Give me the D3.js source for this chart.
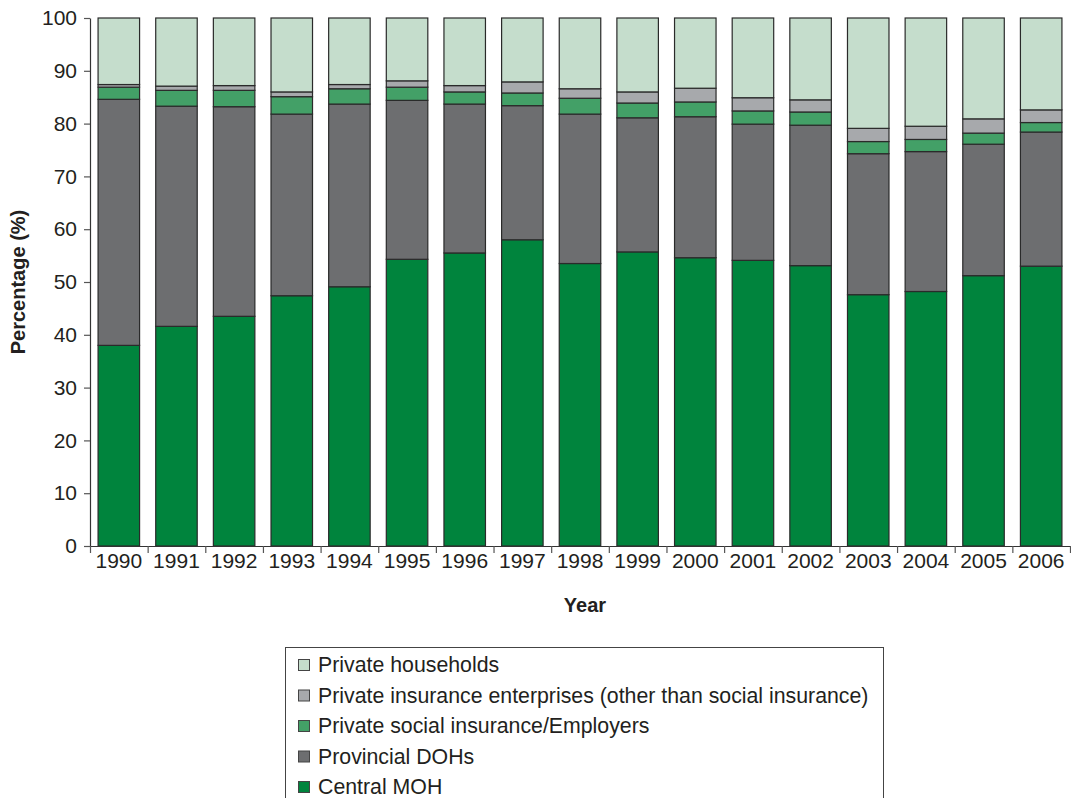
<!DOCTYPE html>
<html>
<head>
<meta charset="utf-8">
<script src="https://cdn.jsdelivr.net/npm/d3@7"></script>
<style>
  html, body { margin: 0; padding: 0; background: #fff; }
  svg { display: block; font-family: "Liberation Sans", Arial, Helvetica, sans-serif; }
</style>
</head>
<body>
<svg id="chart" width="1071" height="798"></svg>
<script>
const years = ["1990","1991","1992","1993","1994","1995","1996","1997","1998","1999","2000","2001","2002","2003","2004","2005","2006"];
const centralMOH     = [38.0, 41.6, 43.5, 47.4, 49.1, 54.3, 55.5, 58.0, 53.5, 55.7, 54.6, 54.1, 53.1, 47.6, 48.2, 51.2, 53.0];
const provincialDOHs = [46.6, 41.7, 39.7, 34.4, 34.6, 30.1, 28.2, 25.4, 28.3, 25.4, 26.7, 25.8, 26.6, 26.7, 26.5, 24.9, 25.4];
const privateSocial  = [ 2.3,  3.0,  3.1,  3.3,  2.9,  2.5,  2.3,  2.4,  3.0,  2.8,  2.8,  2.5,  2.5,  2.3,  2.3,  2.1,  1.8];
const privateInsur   = [ 0.5,  0.8,  0.9,  0.9,  0.8,  1.2,  1.2,  2.1,  1.8,  2.1,  2.6,  2.5,  2.3,  2.5,  2.5,  2.7,  2.4];
const households     = [12.6, 12.9, 12.8, 14.0, 12.6, 11.9, 12.8, 12.1, 13.4, 14.0, 13.3, 15.1, 15.5, 20.9, 20.5, 19.1, 17.4];
const yTicks = [0,10,20,30,40,50,60,70,80,90,100];

const seriesNames = ["Central MOH","Provincial DOHs","Private social insurance/Employers","Private insurance enterprises (other than social insurance)","Private households"];
const seriesColors = ["#00843d","#6d6e70","#43a067","#a7a9ac","#c5ddcc"];
const seriesValues = [centralMOH, provincialDOHs, privateSocial, privateInsur, households];

const rows = years.map((y, i) => {
  const r = { year: y };
  seriesNames.forEach((n, k) => r[n] = seriesValues[k][i]);
  return r;
});

const svg = d3.select("#chart");
const x = d3.scaleBand().domain(years).range([90, 1070]).paddingInner(0.28).paddingOuter(0.14);
const y = d3.scaleLinear().domain([0, 100]).range([546, 18]);

const stacked = d3.stack().keys(seriesNames)(rows);

svg.append("g").selectAll("g").data(stacked).join("g")
  .attr("fill", (d, i) => seriesColors[i])
  .selectAll("rect").data(d => d).join("rect")
  .attr("x", d => x(d.data.year))
  .attr("width", x.bandwidth())
  .attr("y", d => y(d[1]))
  .attr("height", d => y(d[0]) - y(d[1]))
  .attr("stroke", "#2a2a2a")
  .attr("stroke-width", 1.2);

// Y axis
const yAxis = svg.append("g").attr("transform", "translate(90,0)")
  .call(d3.axisLeft(y).tickValues(yTicks).tickSize(6).tickPadding(7).tickSizeOuter(0));
yAxis.select(".domain").attr("stroke", "#333").attr("stroke-width", 1.2);
yAxis.selectAll(".tick line").attr("stroke", "#555").attr("stroke-width", 1.2);
yAxis.selectAll(".tick text").attr("font-size", 21).attr("fill", "#231f20")
  .attr("font-family", "Liberation Sans, Arial, sans-serif");

// X axis: ticks at band boundaries
const xb = d3.scaleLinear().domain([0, years.length]).range([90, 1070]);
const xAxisTicks = svg.append("g").attr("transform", "translate(0,546)")
  .call(d3.axisBottom(xb).tickValues(d3.range(0, years.length + 1)).tickSize(7).tickFormat("").tickSizeOuter(0));
xAxisTicks.select(".domain").attr("stroke", "#333").attr("stroke-width", 1.2);
xAxisTicks.selectAll(".tick line").attr("stroke", "#555").attr("stroke-width", 1.2);

const xAxisLabels = svg.append("g").attr("transform", "translate(0,546)")
  .call(d3.axisBottom(x).tickSize(0).tickPadding(7));
xAxisLabels.select(".domain").remove();
xAxisLabels.selectAll(".tick text").attr("font-size", 21).attr("fill", "#231f20")
  .attr("font-family", "Liberation Sans, Arial, sans-serif");

// Axis titles
svg.append("text").attr("x", 585).attr("y", 612).attr("text-anchor", "middle")
  .attr("font-size", 20).attr("font-weight", "bold").attr("fill", "#231f20").text("Year");
svg.append("text").attr("transform", "translate(25,282) rotate(-90)").attr("text-anchor", "middle")
  .attr("font-size", 20).attr("font-weight", "bold").attr("fill", "#231f20").text("Percentage (%)");

// Legend
const legend = svg.append("g");
legend.append("rect").attr("x", 285.5).attr("y", 647.5).attr("width", 598).attr("height", 170)
  .attr("fill", "#fff").attr("stroke", "#444").attr("stroke-width", 1);
const legendOrder = [4, 3, 2, 1, 0];
legendOrder.forEach((k, i) => {
  const cy = 665 + i * 30.5;
  legend.append("rect").attr("x", 298.5).attr("y", cy - 5.5).attr("width", 11).attr("height", 11)
    .attr("fill", seriesColors[k]).attr("stroke", "#444").attr("stroke-width", 1);
  legend.append("text").attr("x", 318).attr("y", cy).attr("dy", "0.35em")
    .attr("font-size", 21.3).attr("fill", "#231f20").text(seriesNames[k]);
});
</script>
</body>
</html>
